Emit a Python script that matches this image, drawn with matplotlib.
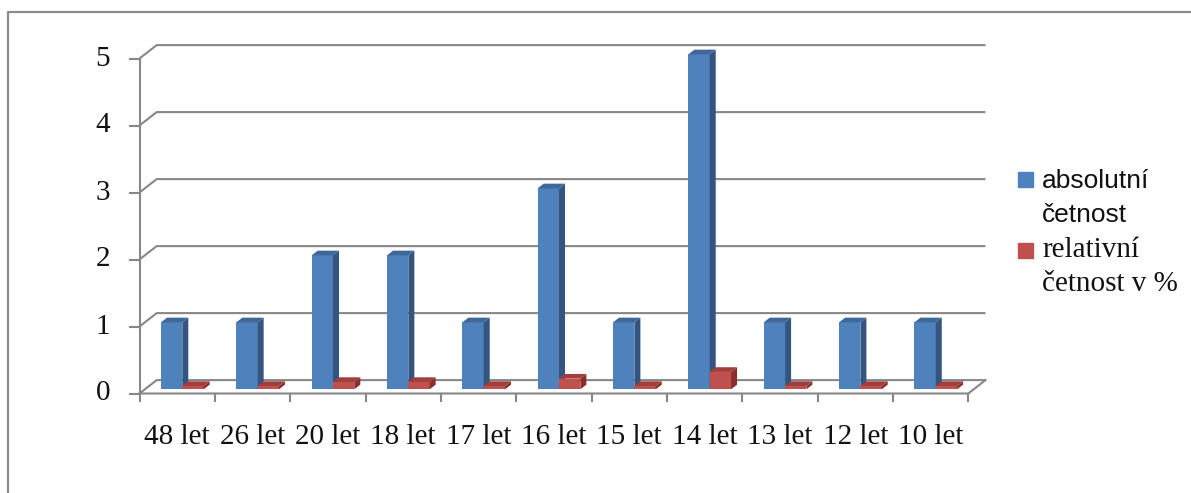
import matplotlib.pyplot as plt
from matplotlib.patches import Polygon, Rectangle
from matplotlib.lines import Line2D

# age groups and counts
categories = ['48 let', '26 let', '20 let', '18 let', '17 let', '16 let',
              '15 let', '14 let', '13 let', '12 let', '10 let']
absolutni = [1, 1, 2, 2, 1, 3, 1, 5, 1, 1, 1]
relativni = [0.05, 0.05, 0.11, 0.11, 0.05, 0.16, 0.05, 0.26, 0.05, 0.05, 0.05]
y_ticks = [0, 1, 2, 3, 4, 5]

W, H = 1191, 493
fig = plt.figure(figsize=(W / 100, H / 100), dpi=100)

# plot area in pixels: x 139.5..968.3, y 393.5 (0) .. 58.5 (5)
ax = fig.add_axes([139.5 / W, (H - 393.5) / H, (968.3 - 139.5) / W, (393.5 - 58.5) / H])
ax.set_xlim(0, len(categories))
ax.set_ylim(0, 5)
ax.axis('off')

# oblique depth of the back wall and of the bars (data units)
dx, dy = 0.228, 0.2
d0, db = 0.31, 0.35
grid_c = '#878787'
lw = 1.5

n = len(categories)
# back wall gridlines with the slanted connectors to the front axis
for v in y_ticks:
    ax.plot([0, dx, n + dx], [v, v + dy, v + dy], color=grid_c, lw=lw,
            clip_on=False, solid_capstyle='butt')
    ax.plot([-0.13, 0], [v, v], color=grid_c, lw=lw, clip_on=False)
    ax.text(-0.39, v, str(v), ha='right', va='center', fontsize=21,
            family='Liberation Serif', color='#111111')

# front axis, floor edge and category ticks
ax.plot([0, 0], [0, 5], color=grid_c, lw=lw, clip_on=False)
ax.plot([0, n, n + dx], [0, 0, dy], color=grid_c, lw=lw, clip_on=False)
for i in range(n + 1):
    ax.plot([i, i], [0, -0.11], color=grid_c, lw=lw, clip_on=False)
for i, lab in enumerate(categories):
    ax.text(i + 0.5, -0.65, lab, ha='center', va='center', fontsize=21,
            family='Liberation Serif', color='#111111')

series = [
    (absolutni, 0.285, ('#4F81BD', '#34557F', '#3F679A')),
    (relativni, 0.568, ('#C0504D', '#8A2E2C', '#A23F3C')),
]
w = 0.283
base = d0 * dy

for i in range(n):
    for vals, off, (front, side, top) in series:
        v = vals[i]
        x0 = i + off
        ax.bar(x0, v, bottom=base, width=w, align='edge', color=front,
               edgecolor='none', clip_on=False, zorder=3)
        ax.add_patch(Polygon([(x0 + w, base), (x0 + w + db * dx, base + db * dy),
                              (x0 + w + db * dx, base + v + db * dy), (x0 + w, base + v)],
                             closed=True, facecolor=side, edgecolor='none',
                             clip_on=False, zorder=3))
        ax.add_patch(Polygon([(x0, base + v), (x0 + db * dx, base + v + db * dy),
                              (x0 + w + db * dx, base + v + db * dy), (x0 + w, base + v)],
                             closed=True, facecolor=top, edgecolor='none',
                             clip_on=False, zorder=3))

# chart frame (left and top edges)
fig.add_artist(Line2D([8 / W, 8 / W, 1.0], [0.0, (H - 12) / H, (H - 12) / H],
                      color='#8C8C8C', lw=1.6, transform=fig.transFigure))

# legend
def px(x, y):
    return x / W, (H - y) / H

for y_sq, col in [(172, '#4F81BD'), (243, '#C0504D')]:
    fig.add_artist(Rectangle(px(1018, y_sq + 15), 15 / W, 15 / H, color=col,
                             transform=fig.transFigure))
legend_text = [
    ('absolutní', 181, 'Liberation Sans', 19),
    ('četnost', 215, 'Liberation Sans', 19),
    ('relativní', 250, 'Liberation Serif', 21),
    ('četnost v %', 284, 'Liberation Serif', 21),
]
for txt, y, fam, fs in legend_text:
    fig.text(*px(1042, y), txt, ha='left', va='center', fontsize=fs,
             family=fam, color='#111111')

fig.savefig('out.png', dpi=100)
